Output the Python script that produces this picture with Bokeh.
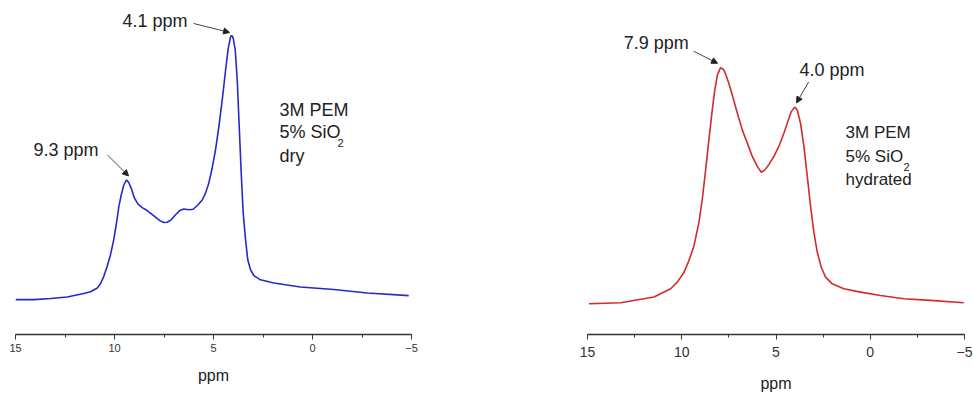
from bokeh.plotting import figure
from bokeh.layouts import row
from bokeh.models import Range1d, SingleIntervalTicker, Label, Arrow, NormalHead
from bokeh.embed import file_html
from bokeh.resources import INLINE

# ---- data ----
dry_ppm = [15.00, 14.07, 13.23, 12.39, 11.55, 11.21, 10.87, 10.71, 10.54, 10.37, 10.20, 10.04,
           9.90, 9.78, 9.66, 9.53, 9.39, 9.28, 9.14, 8.99, 8.82, 8.60, 8.35, 8.01, 7.71, 7.51,
           7.34, 7.14, 6.92, 6.70, 6.50, 6.25, 6.03, 5.79, 5.57, 5.40, 5.24, 5.07, 4.90, 4.73,
           4.56, 4.39, 4.26, 4.14, 4.08, 4.01, 3.90, 3.80, 3.70, 3.60, 3.50, 3.38, 3.27, 3.13,
           2.96, 2.63, 1.95, 0.61, -1.08, -2.76, -4.86]
dry_int = [0.000, 0.000, 0.004, 0.010, 0.023, 0.030, 0.044, 0.060, 0.088, 0.126, 0.170, 0.226,
           0.289, 0.352, 0.396, 0.434, 0.453, 0.443, 0.418, 0.384, 0.362, 0.348, 0.337, 0.317, 0.299, 0.292,
           0.293, 0.302, 0.321, 0.337, 0.343, 0.340, 0.342, 0.358, 0.377, 0.403, 0.440, 0.497, 0.566, 0.654,
           0.755, 0.868, 0.950, 0.994, 1.000, 0.991, 0.943, 0.830, 0.654, 0.478, 0.327, 0.226, 0.151, 0.113,
           0.091, 0.075, 0.063, 0.048, 0.038, 0.025, 0.015]

hyd_ppm = [14.92, 13.24, 11.47, 10.59, 10.23, 9.88, 9.62, 9.35, 9.09, 8.91, 8.73, 8.56, 8.38,
           8.25, 8.11, 7.94, 7.79, 7.67, 7.50, 7.32, 7.05, 6.79, 6.52, 6.26, 5.99, 5.78, 5.60,
           5.38, 5.11, 4.85, 4.58, 4.37, 4.19, 4.01, 3.87, 3.70, 3.52, 3.34, 3.17, 2.99, 2.81,
           2.60, 2.37, 2.02, 1.40, 0.52, -0.54, -1.78, -3.19, -4.96]
hyd_int = [0.000, 0.004, 0.028, 0.063, 0.091, 0.133, 0.182, 0.245, 0.343, 0.441, 0.567, 0.692, 0.818,
           0.902, 0.965, 0.997, 0.989, 0.969, 0.930, 0.881, 0.804, 0.734, 0.678, 0.622, 0.580, 0.555, 0.564,
           0.587, 0.622, 0.664, 0.720, 0.769, 0.811, 0.830, 0.818, 0.762, 0.664, 0.538, 0.413, 0.301, 0.217,
           0.154, 0.112, 0.084, 0.063, 0.049, 0.035, 0.021, 0.014, 0.004]

x_ticks = [15, 10, 5, 0, -5]
dry_labels = ["9.3 ppm", "4.1 ppm"]
hyd_labels = ["7.9 ppm", "4.0 ppm"]
dry_text = ["3M PEM", "5% SiO", "dry"]
hyd_text = ["3M PEM", "5% SiO", "hydrated"]

FONT = "Liberation Sans"
TXT = "#222222"
AX = "#333333"


def make_fig(width, mb_left, mb_right, mb_bottom, ylo, yhi, tick_size, label_standoff, axis_standoff):
    p = figure(width=width, height=394, output_backend="svg", toolbar_location=None,
               x_range=Range1d(15, -5), y_range=Range1d(ylo, yhi),
               y_axis_location=None, min_border_left=mb_left, min_border_right=mb_right,
               min_border_top=5, min_border_bottom=mb_bottom)
    p.outline_line_color = None
    p.grid.visible = False
    p.background_fill_color = "white"
    p.border_fill_color = "white"
    ax = p.xaxis[0]
    ax.ticker = SingleIntervalTicker(interval=5, num_minor_ticks=2)
    ax.axis_line_color = AX
    ax.axis_line_width = 1.4
    ax.major_tick_line_color = AX
    ax.minor_tick_line_color = AX
    ax.major_tick_in = 0
    ax.major_tick_out = 5
    ax.minor_tick_in = 0
    ax.minor_tick_out = 3
    ax.major_label_text_font = FONT
    ax.major_label_text_font_size = tick_size
    ax.major_label_text_color = AX
    ax.major_label_standoff = label_standoff
    ax.axis_label = "ppm"
    ax.axis_label_text_font = FONT
    ax.axis_label_text_font_style = "normal"
    ax.axis_label_text_font_size = "16px"
    ax.axis_label_text_color = TXT
    ax.axis_label_standoff = axis_standoff
    return p


def add_label(p, x, y, text, size, x_offset=0, y_offset=0):
    p.add_layout(Label(x=x, y=y, text=text, text_font=FONT, text_font_size=size,
                       text_color=TXT, text_baseline="middle", text_align="left",
                       x_offset=x_offset, y_offset=y_offset))


def add_arrow(p, x0, y0, x1, y1):
    p.add_layout(Arrow(x_start=x0, y_start=y0, x_end=x1, y_end=y1,
                       line_color="#444444", line_width=1,
                       end=NormalHead(size=6, fill_color="#222222", line_color="#222222")))


# ---- left: dry ----
p1 = make_fig(560, 15, 149, 59, -0.132, 1.113, "11px", 4, 12)
p1.line(dry_ppm, dry_int, line_color="#2828c8", line_width=1.6)
add_label(p1, 14.09, 0.566, dry_labels[0], "18px")
add_arrow(p1, 10.35, 0.547, 9.29, 0.468)
add_label(p1, 9.60, 1.053, dry_labels[1], "18px")
add_arrow(p1, 6.01, 1.045, 4.19, 1.011)
add_label(p1, 1.67, 0.717, dry_text[0], "18px")
add_label(p1, 1.67, 0.635, dry_text[1], "18px")
add_label(p1, 1.67, 0.635, "2", "11px", x_offset=58, y_offset=-11)
add_label(p1, 1.67, 0.545, dry_text[2], "18px")

# ---- right: hydrated ----
p2 = make_fig(413, 27, 9, 58, -0.130, 1.259, "14px", 7, 15)
p2.line(hyd_ppm, hyd_int, line_color="#d42a2a", line_width=1.6)
add_label(p2, 13.08, 1.099, hyd_labels[0], "18px")
add_arrow(p2, 9.37, 1.066, 8.10, 1.015)
add_label(p2, 3.75, 0.986, hyd_labels[1], "18px")
add_arrow(p2, 3.27, 0.936, 3.91, 0.848)
add_label(p2, 1.31, 0.722, hyd_text[0], "17px")
add_label(p2, 1.31, 0.621, hyd_text[1], "17px")
add_label(p2, 1.31, 0.621, "2", "11px", x_offset=58, y_offset=-10)
add_label(p2, 1.31, 0.525, hyd_text[2], "17px")

layout = row(p1, p2, spacing=0)
open("out.html", "w").write(file_html(layout, INLINE))
